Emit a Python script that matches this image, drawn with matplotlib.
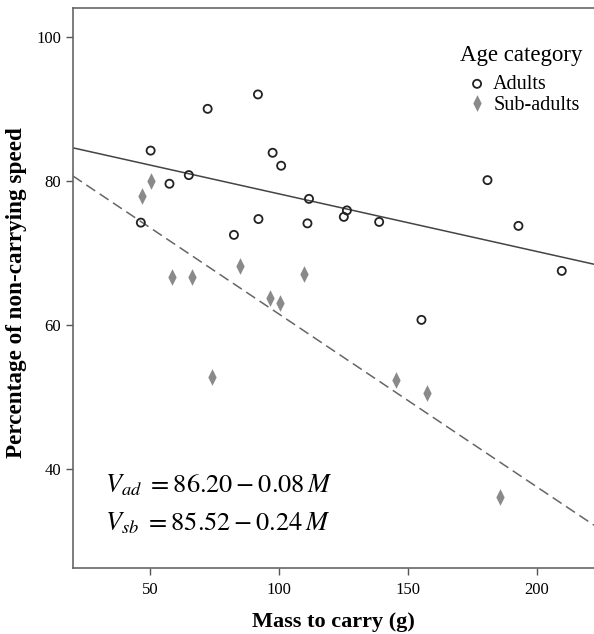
import numpy as np
import matplotlib
matplotlib.use("Agg")
import matplotlib.pyplot as plt
from matplotlib.path import Path

plt.rcParams['font.family'] = ['Liberation Serif', 'DejaVu Serif']
plt.rcParams['mathtext.fontset'] = 'stix'

# Adults
adult_mass = [50.3, 72.4, 91.9, 57.6, 65.1, 46.5, 97.6, 100.9, 111.7, 92.1,
              82.6, 111.1, 126.4, 125.2, 138.9, 180.9, 192.9, 209.7, 155.3]
adult_speed = [84.2, 90.0, 92.0, 79.6, 80.8, 74.2, 83.9, 82.1, 77.5, 74.7,
               72.5, 74.1, 75.9, 75.0, 74.3, 80.1, 73.75, 67.5, 60.7]

# Sub-adults
sub_mass = [50.4, 47.0, 58.5, 66.3, 84.8, 109.7, 96.5, 100.4, 74.0, 145.3, 157.6, 185.8]
sub_speed = [80.0, 77.9, 66.6, 66.6, 68.2, 67.1, 63.8, 63.1, 52.7, 52.3, 50.5, 36.1]

# regression coefficients (intercept, slope)
fit_adult = (86.20, -0.08)
fit_sub = (85.52, -0.24)

xticks = [50, 100, 150, 200]
yticks = [40, 60, 80, 100]

# narrow diamond like the SPSS one
diamante = Path([(0, 1), (0.5, 0), (0, -1), (-0.5, 0), (0, 1)],
                [Path.MOVETO, Path.LINETO, Path.LINETO, Path.LINETO, Path.CLOSEPOLY])

W, H = 594, 634
fig = plt.figure(figsize=(W / 100, H / 100), dpi=100)
ax = fig.add_axes([73 / W, 1 - 568 / H, 1 - 73 / W, 560 / H])

xmin, xmax = 20.2, 222.2
ax.set_xlim(xmin, xmax)
ax.set_ylim(26.25, 104.0)

xx = np.array([xmin, xmax])
ax.plot(xx, fit_adult[0] + fit_adult[1] * xx, color='#444444', lw=1.1, zorder=1)
ax.plot(xx, fit_sub[0] + fit_sub[1] * xx, color='#666666', lw=1.1,
        dashes=(7, 3.5), zorder=1)

ax.scatter(adult_mass, adult_speed, s=34, facecolors='none', edgecolors='#222222',
           linewidths=1.3, label='Adults', zorder=3)
ax.plot(sub_mass, sub_speed, linestyle='none', marker=diamante, markersize=12,
        color='#8a8a8a', markeredgewidth=0, label='Sub-adults', zorder=2)

ax.set_xticks(xticks)
ax.set_yticks(yticks)
ax.tick_params(direction='out', length=5, width=1, colors='#555555',
               labelcolor='black', labelsize=12)
ax.tick_params(axis='x', pad=5)

for side in ['left', 'bottom', 'top']:
    ax.spines[side].set_color('#666666')
    ax.spines[side].set_linewidth(1.2)
ax.spines['right'].set_visible(False)

ax.set_xlabel('Mass to carry (g)', fontsize=16, fontweight='bold', labelpad=10)
ax.set_ylabel('Percentage of non-carrying speed', fontsize=16.7, fontweight='bold')
ax.yaxis.set_label_coords(-0.088, 0.491)

ax.text(32.6, 36.7, r'$V_{ad}\,\,=86.20-0.08\,M$', fontsize=19)
ax.text(32.6, 31.5, r'$V_{sb}\,\,=85.52-0.24\,M$', fontsize=19)

# leyenda: titulo aparte para controlar el espacio
fig.text(460 / W, 1 - 55 / H, 'Age category', fontsize=16.5, va='center', ha='left')
leg = ax.legend(loc='upper left', bbox_to_anchor=(469 / W, 1 - 75 / H),
                bbox_transform=fig.transFigure, frameon=False,
                fontsize=14.5, handletextpad=0.4, borderpad=0, borderaxespad=0,
                labelspacing=0.1, handlelength=0.8)

fig.savefig('out.png', dpi=100)
